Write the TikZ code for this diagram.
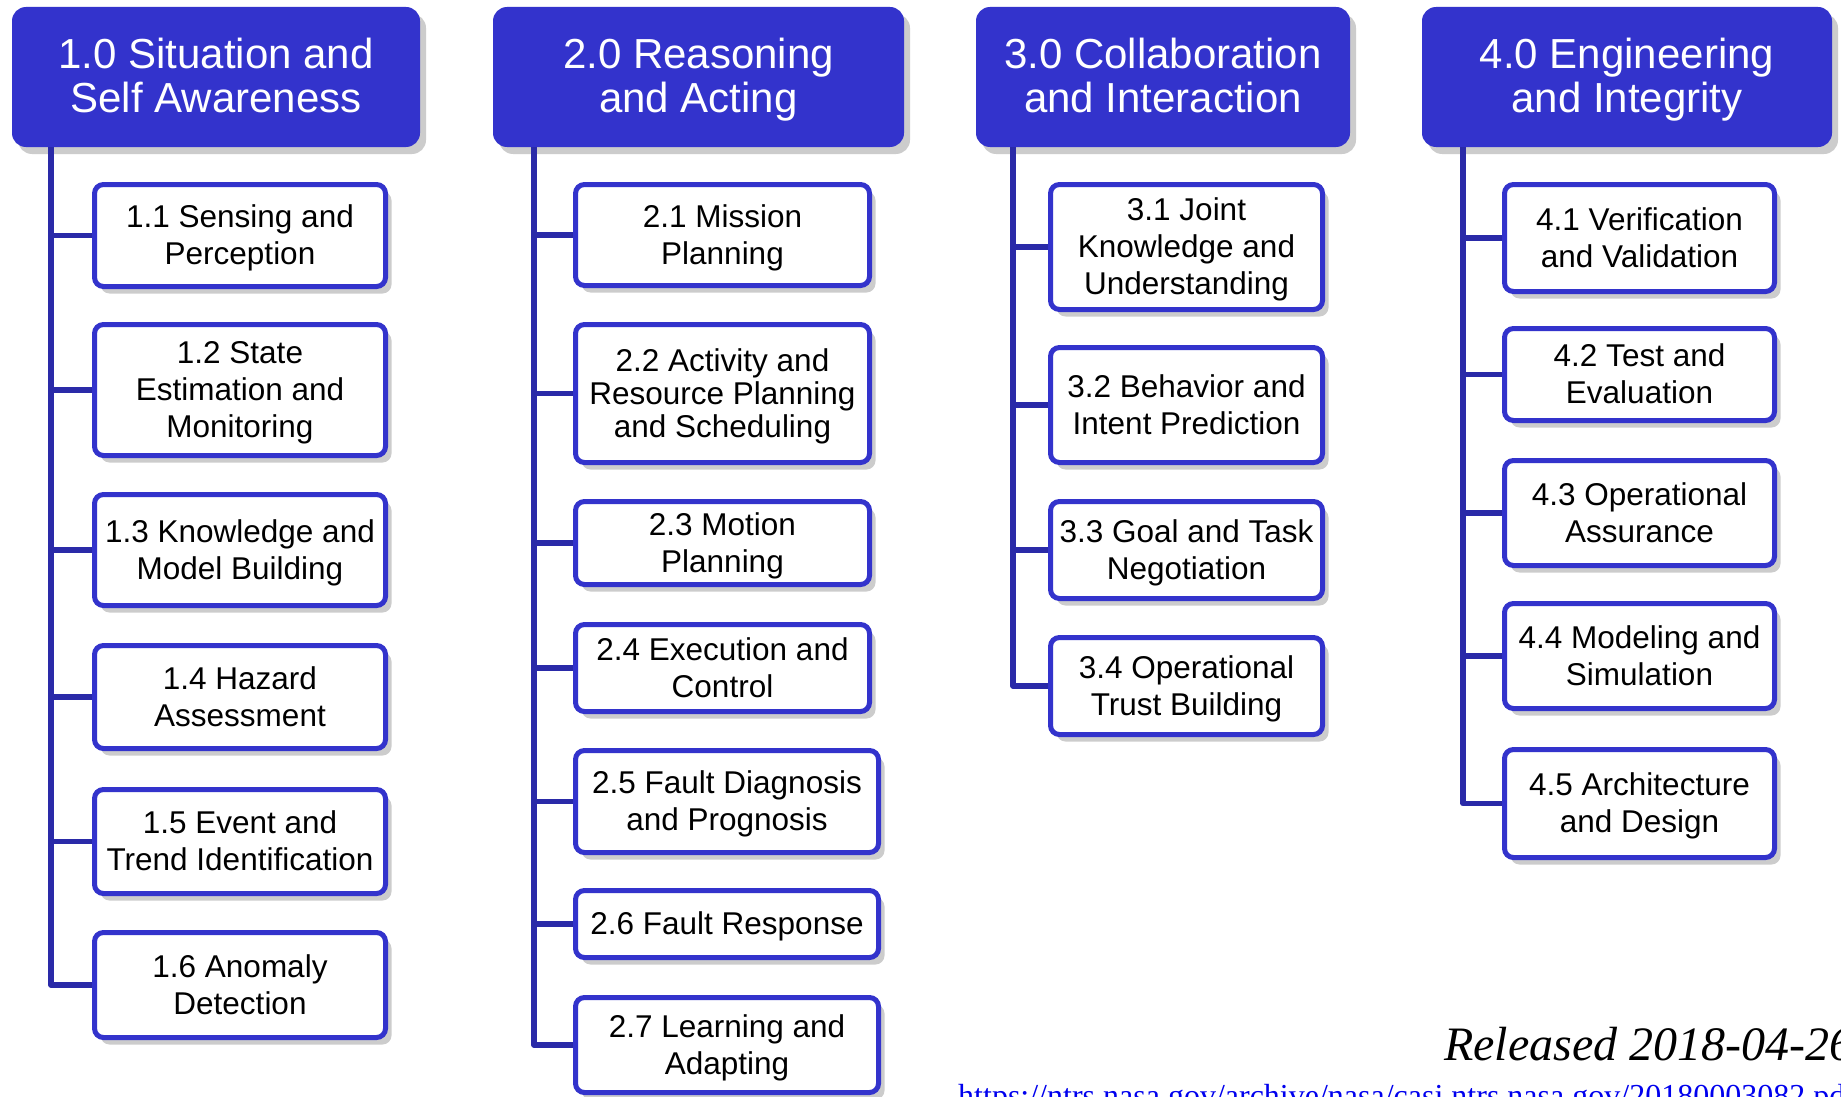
\documentclass[tikz,border=0pt]{standalone}
\usepackage{fontspec}
\setmainfont{Liberation Sans}
\newfontfamily\relfont{Liberation Serif}
\usetikzlibrary{shadows}
\definecolor{nasablue}{RGB}{51,51,204}
\definecolor{stemblue}{RGB}{42,42,168}
\definecolor{linkblue}{RGB}{0,0,238}

\begin{document}
\begin{tikzpicture}[x=1pt, y=-1pt,
    topbox/.style={fill=nasablue, text=white, rounded corners=14pt, align=center, inner sep=0pt,
        font=\fontsize{42}{44}\selectfont, text height=80pt, text depth=8.9pt,
        drop shadow={shadow xshift=6pt, shadow yshift=-7pt, opacity=0.4}},
    subbox/.style={draw=nasablue, fill=white, line width=5pt, rounded corners=9pt, align=center, inner sep=0pt,
        font=\fontsize{31.5}{37}\selectfont, text height=65.5pt, text depth=6.7pt,
        drop shadow={shadow xshift=6pt, shadow yshift=-7pt, opacity=0.4}},
    stem/.style={draw=stemblue, line width=5.5pt, line join=round}]
                    \path[fill=white, use as bounding box] (0,0) rectangle (1841,1097);
                    % Headers
                    \node[topbox, minimum width=408, minimum height=140] (h1) at (216,77) {1.0 Situation and\\Self Awareness};
                    \node[topbox, minimum width=411, minimum height=140] (h2) at (698.5,77) {2.0 Reasoning\\and Acting};
                    \node[topbox, minimum width=374, minimum height=140] (h3) at (1163,77) {3.0 Collaboration\\and Interaction};
                    \node[topbox, minimum width=410, minimum height=140] (h4) at (1627,77) {4.0 Engineering\\and Integrity};
                    % Column 1
                    \node[subbox, minimum width=291, minimum height=102] (c11) at (240,235.5) {1.1 Sensing and\\Perception};
                    \node[subbox, minimum width=291, minimum height=131, text height=102.5pt] (c12) at (240,390) {1.2 State\\Estimation and\\Monitoring};
                    \node[subbox, minimum width=291, minimum height=111] (c13) at (240,550) {1.3 Knowledge and\\Model Building};
                    \node[subbox, minimum width=291, minimum height=103] (c14) at (240,697) {1.4 Hazard\\Assessment};
                    \node[subbox, minimum width=291, minimum height=104] (c15) at (240,841.5) {1.5 Event and\\Trend Identification};
                    \node[subbox, minimum width=291, minimum height=105] (c16) at (240,985) {1.6 Anomaly\\Detection};
                    % Column 2
                    \node[subbox, minimum width=294, minimum height=101] (c21) at (722.5,235) {2.1 Mission\\Planning};
                    \node[subbox, minimum width=294, minimum height=138, font=\fontsize{31.5}{33}\selectfont, text height=94.5pt] (c22) at (722.5,393.5) {2.2 Activity and\\Resource Planning\\and Scheduling};
                    \node[subbox, minimum width=294, minimum height=83] (c23) at (722.5,543) {2.3 Motion\\Planning};
                    \node[subbox, minimum width=294, minimum height=87] (c24) at (722.5,668) {2.4 Execution and\\Control};
                    \node[subbox, minimum width=303, minimum height=102] (c25) at (727,801.5) {2.5 Fault Diagnosis\\and Prognosis};
                    \node[subbox, minimum width=303, minimum height=67, text height=28.5pt] (c26) at (727,924) {2.6 Fault Response};
                    \node[subbox, minimum width=303, minimum height=95] (c27) at (727,1045) {2.7 Learning and\\Adapting};
                    % Column 3
                    \node[subbox, minimum width=272, minimum height=125, text height=102.5pt] (c31) at (1186.5,247) {3.1 Joint\\Knowledge and\\Understanding};
                    \node[subbox, minimum width=272, minimum height=115] (c32) at (1186.5,405) {3.2 Behavior and\\Intent Prediction};
                    \node[subbox, minimum width=272, minimum height=97] (c33) at (1186.5,550) {3.3 Goal and Task\\Negotiation};
                    \node[subbox, minimum width=272, minimum height=97] (c34) at (1186.5,686) {3.4 Operational\\Trust Building};
                    % Column 4
                    \node[subbox, minimum width=270, minimum height=107] (c41) at (1639.5,238) {4.1 Verification\\and Validation};
                    \node[subbox, minimum width=270, minimum height=92] (c42) at (1639.5,374.5) {4.2 Test and\\Evaluation};
                    \node[subbox, minimum width=270, minimum height=105] (c43) at (1639.5,513) {4.3 Operational\\Assurance};
                    \node[subbox, minimum width=270, minimum height=105] (c44) at (1639.5,656) {4.4 Modeling and\\Simulation};
                    \node[subbox, minimum width=270, minimum height=108] (c45) at (1639.5,803.5) {4.5 Architecture\\and Design};
                    % Stems
                    \coordinate (t1) at (51,147);
                    \coordinate (t2) at (534,147);
                    \coordinate (t3) at (1013,147);
                    \coordinate (t4) at (1463,147);
                    \draw[stem] (t1) |- (c16.west);
                    \foreach \c in {c11,c12,c13,c14,c15}
                        \draw[stem] (t1 |- \c.west) -- (\c.west);
                    \draw[stem] (t2) |- (c27.west);
                    \foreach \c in {c21,c22,c23,c24,c25,c26}
                        \draw[stem] (t2 |- \c.west) -- (\c.west);
                    \draw[stem] (t3) |- (c34.west);
                    \foreach \c in {c31,c32,c33}
                        \draw[stem] (t3 |- \c.west) -- (\c.west);
                    \draw[stem] (t4) |- (c45.west);
                    \foreach \c in {c41,c42,c43,c44}
                        \draw[stem] (t4 |- \c.west) -- (\c.west);
                    % Release note
                    \node[anchor=base west, inner sep=0pt, font=\relfont\itshape\fontsize{48}{50}\selectfont] (rel) at (1444,1060) {Released 2018-04-26};
                    \node[anchor=base west, inner sep=0pt, text=linkblue, font=\relfont\fontsize{32}{34}\selectfont] (url) at (958,1106) {https://ntrs.nasa.gov/archive/nasa/casi.ntrs.nasa.gov/20180003082.pdf};
                \end{tikzpicture}
\end{document}
